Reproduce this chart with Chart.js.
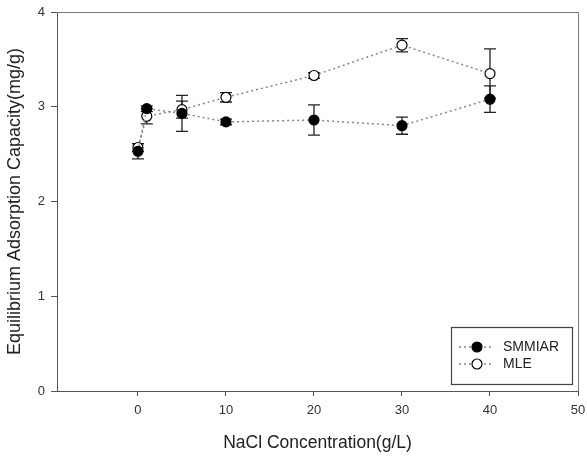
<!DOCTYPE html>
<html>
<head>
<meta charset="utf-8">
<script src="https://cdn.jsdelivr.net/npm/chart.js@4"></script>
<style>
  html, body { margin: 0; padding: 0; background: #fff; }
  #wrap { width: 587px; height: 457px; }
</style>
</head>
<body>
<div id="wrap"><canvas id="adsChart" width="587" height="457"></canvas></div>
<script>
// NaCl concentration (g/L)
const nacl = [0, 1, 5, 10, 20, 30, 40];
// Equilibrium adsorption capacity (mg/g)
const smmiar = [2.53, 2.98, 2.93, 2.84, 2.86, 2.80, 3.08];
const smmiarErr = [0.08, 0.03, 0.19, 0.03, 0.16, 0.09, 0.14];
const mle = [2.57, 2.90, 2.97, 3.10, 3.33, 3.65, 3.35];
const mleErr = [0.04, 0.08, 0.09, 0.05, 0.03, 0.07, 0.26];
const xTicks = [0, 10, 20, 30, 40, 50];
const yTicks = [0, 1, 2, 3, 4];

const FONT = "'Liberation Sans', Arial, sans-serif";

function toPoints(xs, ys, errs) {
  return xs.map((x, i) => ({ x: x, y: ys[i], err: errs[i] }));
}

// error bars drawn under the markers
const errorBars = {
  id: 'errorBars',
  beforeDatasetsDraw(chart) {
    const ctx = chart.ctx;
    const xs = chart.scales.x, ys = chart.scales.y;
    ctx.save();
    ctx.strokeStyle = '#222';
    ctx.lineWidth = 1.3;
    chart.data.datasets.forEach(ds => {
      ds.data.forEach(p => {
        const px = xs.getPixelForValue(p.x);
        const top = ys.getPixelForValue(p.y + p.err);
        const bot = ys.getPixelForValue(p.y - p.err);
        ctx.beginPath();
        ctx.moveTo(px, top); ctx.lineTo(px, bot);
        ctx.moveTo(px - 6, top); ctx.lineTo(px + 6, top);
        ctx.moveTo(px - 6, bot); ctx.lineTo(px + 6, bot);
        ctx.stroke();
      });
    });
    ctx.restore();
  }
};

// box around plot + boxed legend in lower right
const frameAndLegend = {
  id: 'frameAndLegend',
  afterDraw(chart) {
    const ctx = chart.ctx;
    const a = chart.chartArea;
    ctx.save();
    ctx.strokeStyle = '#777';
    ctx.lineWidth = 1;
    ctx.beginPath();
    ctx.moveTo(a.left, a.top + 0.5); ctx.lineTo(a.right + 0.5, a.top + 0.5);
    ctx.lineTo(a.right + 0.5, a.bottom);
    ctx.stroke();

    const bx = a.right - 127, by = a.bottom - 64, bw = 121, bh = 57;
    ctx.strokeStyle = '#444';
    ctx.lineWidth = 1.2;
    ctx.strokeRect(bx + 0.5, by + 0.5, bw, bh);

    ctx.font = '14px ' + FONT;
    ctx.textBaseline = 'middle';
    chart.data.datasets.forEach((ds, i) => {
      const ly = by + 20 + i * 17;
      ctx.strokeStyle = ds.borderColor;
      ctx.lineWidth = 1.5;
      ctx.setLineDash([2, 3]);
      ctx.beginPath();
      ctx.moveTo(bx + 8, ly); ctx.lineTo(bx + 40, ly);
      ctx.stroke();
      ctx.setLineDash([]);
      ctx.beginPath();
      ctx.arc(bx + 26, ly, 5, 0, Math.PI * 2);
      ctx.fillStyle = ds.pointBackgroundColor;
      ctx.fill();
      ctx.strokeStyle = ds.pointBorderColor;
      ctx.lineWidth = 1.2;
      ctx.stroke();
      ctx.fillStyle = '#222';
      ctx.fillText(ds.label, bx + 52, ly);
    });
    ctx.restore();
  }
};

const ctx = document.getElementById('adsChart').getContext('2d');

new Chart(ctx, {
  type: 'line',
  data: {
    datasets: [{
      label: 'SMMIAR',
      data: toPoints(nacl, smmiar, smmiarErr),
      borderColor: '#888',
      borderWidth: 1.5,
      borderDash: [2, 3],
      pointRadius: 5,
      pointBackgroundColor: '#000',
      pointBorderColor: '#000',
      pointBorderWidth: 1.2,
      tension: 0
    }, {
      label: 'MLE',
      data: toPoints(nacl, mle, mleErr),
      borderColor: '#888',
      borderWidth: 1.5,
      borderDash: [2, 3],
      pointRadius: 5,
      pointBackgroundColor: '#fff',
      pointBorderColor: '#000',
      pointBorderWidth: 1.2,
      tension: 0
    }]
  },
  options: {
    responsive: false,
    animation: false,
    layout: { padding: { top: 12, right: 9, left: 0, bottom: 0 } },
    plugins: {
      legend: { display: false },
      tooltip: { enabled: false }
    },
    scales: {
      x: {
        type: 'linear',
        min: -9.2,
        max: 50,
        afterBuildTicks: s => { s.ticks = xTicks.map(v => ({ value: v })); },
        afterFit: s => { s.height = 66; s.paddingLeft = 0; s.paddingRight = 0; },
        grid: { drawOnChartArea: false, drawTicks: true, tickLength: 5, color: '#555' },
        border: { display: true, color: '#555', width: 1 },
        ticks: { color: '#333', padding: 7, font: { family: FONT, size: 13 }, maxRotation: 0 },
        title: {
          display: true,
          text: 'NaCl Concentration(g/L)',
          color: '#222',
          font: { family: FONT, size: 17.5 },
          padding: { top: 0, bottom: 3.5 }
        }
      },
      y: {
        min: 0,
        max: 4,
        afterBuildTicks: s => { s.ticks = yTicks.map(v => ({ value: v })); },
        afterFit: s => { s.width = 57; s.paddingTop = 0; s.paddingBottom = 0; },
        grid: { drawOnChartArea: false, drawTicks: true, tickLength: 6, color: '#555' },
        border: { display: true, color: '#555', width: 1 },
        ticks: { color: '#333', padding: 6, font: { family: FONT, size: 13 } },
        title: {
          display: true,
          text: 'Equilibrium Adsorption Capacity(mg/g)',
          color: '#222',
          font: { family: FONT, size: 18 },
          padding: { top: 4.5, bottom: 0 }
        }
      }
    }
  },
  plugins: [errorBars, frameAndLegend]
});
</script>
</body>
</html>
